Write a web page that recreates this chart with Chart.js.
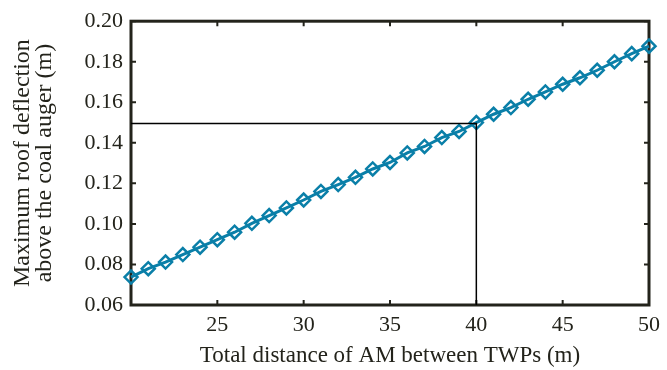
<!DOCTYPE html>
<html>
<head>
<meta charset="utf-8">
<script src="https://cdn.jsdelivr.net/npm/chart.js@4"></script>
<style>
html, body { margin: 0; padding: 0; background: #fff; }
</style>
</head>
<body>
<canvas id="chart" width="667" height="370"></canvas>
<script>
// --- Data ---
const distance = [20, 21, 22, 23, 24, 25, 26, 27, 28, 29, 30, 31, 32, 33, 34, 35,
	36, 37, 38, 39, 40, 41, 42, 43, 44, 45, 46, 47, 48, 49, 50];
const deflection = [0.0738, 0.0779, 0.0812, 0.0849, 0.0885, 0.0922, 0.0959, 0.1003,
	0.1041, 0.1079, 0.1118, 0.1160, 0.1194, 0.1230, 0.1271, 0.1303, 0.1350, 0.1382,
	0.1426, 0.1456, 0.1500, 0.1541, 0.1574, 0.1615, 0.1651, 0.1689, 0.1721, 0.1758,
	0.1800, 0.1840, 0.1877];

// reading guide at 40 m
const guideX = 40;
const guideY = 0.1495;

const xTickValues = [20, 25, 30, 35, 40, 45, 50];
const yTickValues = [0.06, 0.08, 0.10, 0.12, 0.14, 0.16, 0.18, 0.20];

const FONT = "'Liberation Serif', 'DejaVu Serif', serif";
const INK = "#23231b";
const LINE = "#0a7fa8";

// --- Frame with inward ticks (MATLAB style) ---
const framePlugin = {
	id: "frame",
	beforeDatasetsDraw(chart) {
		const { ctx, chartArea: a, scales } = chart;
		ctx.save();
		ctx.strokeStyle = INK;
		ctx.lineWidth = 2;
		const len = 5;
		ctx.beginPath();
		xTickValues.forEach((v) => {
			const px = scales.x.getPixelForValue(v);
			ctx.moveTo(px, a.bottom);
			ctx.lineTo(px, a.bottom - len);
			ctx.moveTo(px, a.top);
			ctx.lineTo(px, a.top + len);
		});
		yTickValues.forEach((v) => {
			const py = scales.y.getPixelForValue(v);
			ctx.moveTo(a.left, py);
			ctx.lineTo(a.left + len, py);
			ctx.moveTo(a.right, py);
			ctx.lineTo(a.right - len, py);
		});
		ctx.stroke();
		ctx.lineWidth = 3;
		ctx.strokeRect(a.left, a.top, a.right - a.left, a.bottom - a.top);
		ctx.restore();
	},
};

const ctx = document.getElementById("chart").getContext("2d");
new Chart(ctx, {
	type: "scatter",
	data: {
		datasets: [
			{
				data: [
					{ x: distance[0], y: guideY },
					{ x: guideX, y: guideY },
					{ x: guideX, y: yTickValues[0] },
				],
				showLine: true,
				borderColor: "#000",
				borderWidth: 1.5,
				pointRadius: 0,
				clip: false,
			},
			{
				data: distance.map((d, i) => ({ x: d, y: deflection[i] })),
				showLine: true,
				borderColor: LINE,
				borderWidth: 3,
				pointStyle: "rectRot",
				pointRadius: 6.5,
				pointBorderWidth: 2.5,
				pointBorderColor: LINE,
				pointBackgroundColor: "rgba(255,255,255,0)",
				clip: false,
			},
		],
	},
	options: {
		responsive: false,
		animation: false,
		layout: { padding: { top: 18, right: 15, left: 0, bottom: 0 } },
		plugins: {
			legend: { display: false },
			tooltip: { enabled: false },
		},
		scales: {
			x: {
				type: "linear",
				min: 20,
				max: 50,
				grid: { display: false, drawTicks: false },
				border: { display: false },
				afterFit: (s) => { s.height = 65; },
				afterBuildTicks: (s) => { s.ticks = xTickValues.map((v) => ({ value: v })); },
				ticks: {
					padding: 7,
					color: INK,
					font: { family: FONT, size: 22 },
					callback: (v) => (v === 20 ? "" : String(v)),
				},
				title: {
					display: true,
					text: "Total distance of AM between TWPs (m)",
					color: INK,
					font: { family: FONT, size: 23 },
					padding: { top: 0, bottom: 0 },
				},
			},
			y: {
				min: 0.06,
				max: 0.2,
				grid: { display: false, drawTicks: false },
				border: { display: false },
				afterFit: (s) => { s.width = 131; },
				afterBuildTicks: (s) => { s.ticks = yTickValues.map((v) => ({ value: v })); },
				ticks: {
					padding: 8,
					color: INK,
					font: { family: FONT, size: 22 },
					callback: (v) => v.toFixed(2),
				},
				title: {
					display: true,
					text: ["Maximum roof deflection", "above the coal auger (m)"],
					color: INK,
					font: { family: FONT, size: 24, lineHeight: 0.92 },
					padding: { top: 12, bottom: 0 },
				},
			},
		},
	},
	plugins: [framePlugin],
});
</script>
</body>
</html>
